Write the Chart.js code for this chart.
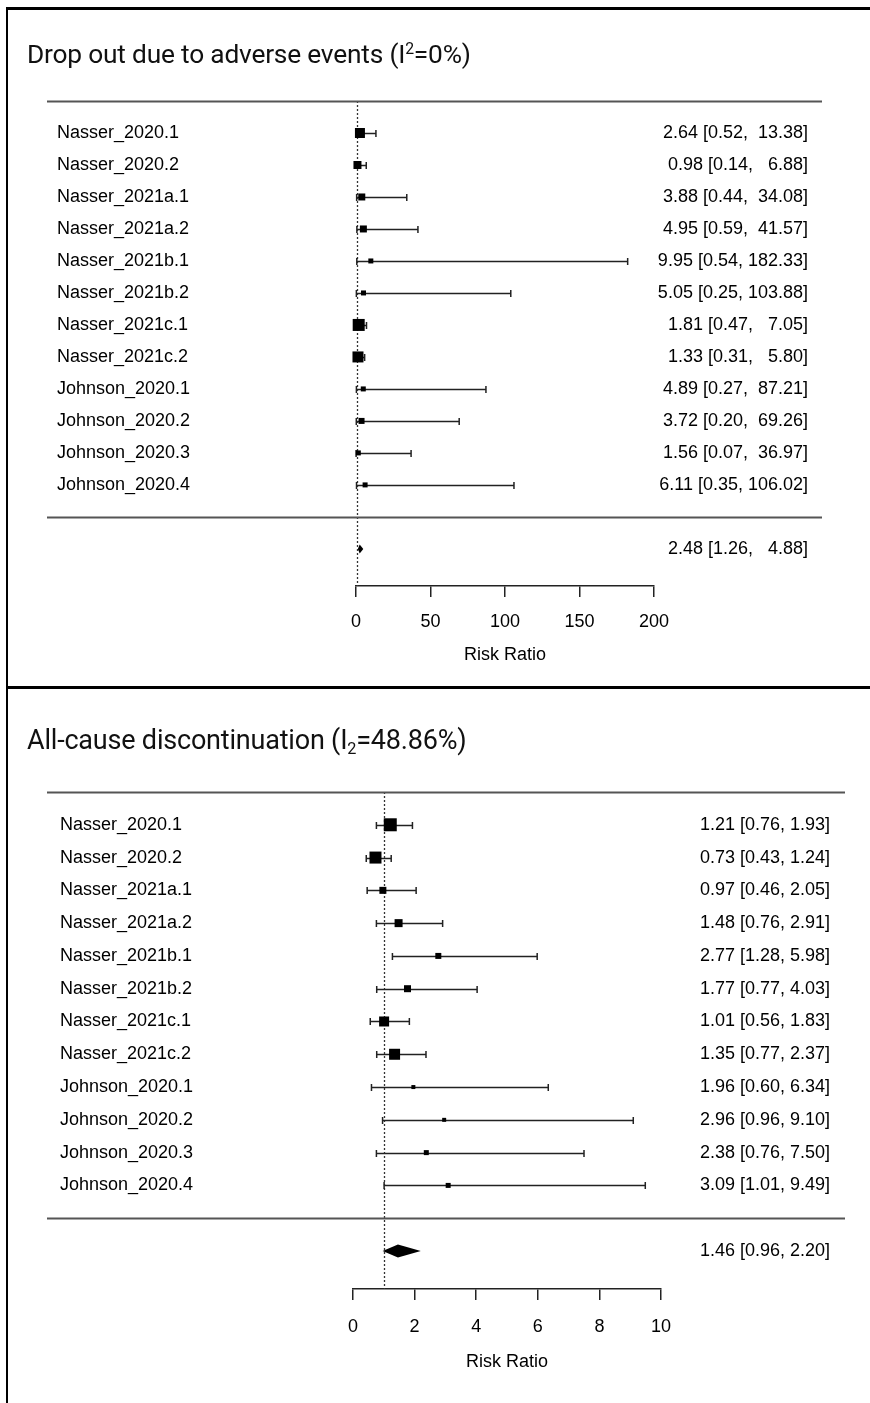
<!DOCTYPE html>
<html><head><meta charset="utf-8">
<script src="https://cdn.jsdelivr.net/npm/chart.js@4.4.1/dist/chart.umd.min.js"></script>
<style>
html,body{margin:0;padding:0;background:#fff;}
#wrap{position:relative;width:870px;height:1403px;overflow:hidden;background:#fff;}
canvas{position:absolute;left:0;}
.title{position:absolute;left:27px;font-family:Roboto,sans-serif;color:#111;white-space:nowrap;line-height:1;letter-spacing:-0.2px;}
.title sup{font-size:60%;vertical-align:0.55em;line-height:0;}
.title sub{font-size:60%;vertical-align:-0.3em;line-height:0;}
.bline{position:absolute;background:#000;}
</style></head><body>
<div id="wrap">
<canvas id="c1" width="870" height="688" style="top:0"></canvas>
<canvas id="c2" width="870" height="715" style="top:688px"></canvas>
<div class="title" style="top:41px;font-size:26.3px">Drop out due to adverse events (I<sup>2</sup>=0%)</div>
<div class="title" style="top:727px;font-size:27px">All-cause discontinuation (I<sub>2</sub>=48.86%)</div>
<div class="bline" style="left:6px;top:7px;width:864px;height:3px"></div>
<div class="bline" style="left:6px;top:7px;width:2px;height:1396px"></div>
<div class="bline" style="left:6px;top:686px;width:864px;height:3px"></div>
</div>
<script>
// ---------- data ----------
const studies = ["Nasser_2020.1","Nasser_2020.2","Nasser_2021a.1","Nasser_2021a.2","Nasser_2021b.1","Nasser_2021b.2","Nasser_2021c.1","Nasser_2021c.2","Johnson_2020.1","Johnson_2020.2","Johnson_2020.3","Johnson_2020.4"];

// Panel A: Drop out due to adverse events
const estA = [2.64,0.98,3.88,4.95,9.95,5.05,1.81,1.33,4.89,3.72,1.56,6.11];
const loA  = [0.52,0.14,0.44,0.59,0.54,0.25,0.47,0.31,0.27,0.20,0.07,0.35];
const hiA  = [13.38,6.88,34.08,41.57,182.33,103.88,7.05,5.80,87.21,69.26,36.97,106.02];
const weightsA = [10,8,7,7,5,5,12,11,5,6,5,5];
const pooledA = [2.48,1.26,4.88]; // estimate, lower, upper
const ticksA = [0,50,100,150,200];

// Panel B: All-cause discontinuation
const estB = [1.21,0.73,0.97,1.48,2.77,1.77,1.01,1.35,1.96,2.96,2.38,3.09];
const loB  = [0.76,0.43,0.46,0.76,1.28,0.77,0.56,0.77,0.60,0.96,0.76,1.01];
const hiB  = [1.93,1.24,2.05,2.91,5.98,4.03,1.83,2.37,6.34,9.10,7.50,9.49];
const weightsB = [13,12,7,8,6,7,10,11,4,4,5,5];
const pooledB = [1.46,0.96,2.20];
const ticksB = [0,2,4,6,8,10];

const refValue = 1;
const axisTitle = "Risk Ratio";

// ---------- drawing ----------
const FONT = "'Liberation Sans', Arial, sans-serif";
const INK = '#222';

function ciStrings(est, lo, hi, pooled){
  const all = hi.concat([pooled[2]]).map(v=>v.toFixed(2));
  const w = Math.max(...all.map(s=>s.length));
  const f = (e,l,h)=>{ let hs=h.toFixed(2); while(hs.length<w) hs=' '+hs; return e.toFixed(2)+' ['+l.toFixed(2)+', '+hs+']'; };
  return {rows: est.map((e,i)=>f(e,lo[i],hi[i])), pooled: f(pooled[0],pooled[1],pooled[2])};
}

function forestPlugin(d){
  const txt = ciStrings(d.est,d.lo,d.hi,d.pooled);
  const n = d.est.length;
  return {
    id:'forest'+d.id,
    beforeDatasetsDraw(chart){
      const {ctx, scales:{x,y}, chartArea} = chart;
      ctx.save();
      const xr = Math.round(x.getPixelForValue(refValue))+0.5;
      ctx.strokeStyle='#333'; ctx.lineWidth=1.3; ctx.setLineDash([2,2]);
      ctx.beginPath(); ctx.moveTo(xr, y.getPixelForValue(-1)); ctx.lineTo(xr, chartArea.bottom); ctx.stroke();
      ctx.setLineDash([]);
      ctx.strokeStyle=INK; ctx.lineWidth=1.5;
      d.est.forEach((e,i)=>{
        const py = Math.round(y.getPixelForValue(i))+0.5;
        const x0 = x.getPixelForValue(d.lo[i]), x1 = x.getPixelForValue(d.hi[i]);
        ctx.beginPath();
        ctx.moveTo(x0,py); ctx.lineTo(x1,py);
        ctx.moveTo(x0,py-3.5); ctx.lineTo(x0,py+3.5);
        ctx.moveTo(x1,py-3.5); ctx.lineTo(x1,py+3.5);
        ctx.stroke();
      });
      ctx.restore();
    },
    afterDatasetsDraw(chart){
      const {ctx, scales:{x,y}} = chart;
      ctx.save();
      ctx.strokeStyle='#555'; ctx.lineWidth=1.8;
      [-1, n].forEach(v=>{
        const py = Math.round(y.getPixelForValue(v))+0.5;
        ctx.beginPath(); ctx.moveTo(d.lineX0,py); ctx.lineTo(d.lineX1,py); ctx.stroke();
      });
      const ys = y.getPixelForValue(n+1);
      ctx.fillStyle='#000';
      ctx.beginPath();
      ctx.moveTo(x.getPixelForValue(d.pooled[1]), ys);
      ctx.lineTo(x.getPixelForValue(d.pooled[0]), ys-d.diaH);
      ctx.lineTo(x.getPixelForValue(d.pooled[2]), ys);
      ctx.lineTo(x.getPixelForValue(d.pooled[0]), ys+d.diaH);
      ctx.closePath(); ctx.fill();
      ctx.font = '18px '+FONT; ctx.fillStyle='#000'; ctx.textBaseline='middle';
      studies.forEach((s,i)=>{
        const py = y.getPixelForValue(i);
        ctx.textAlign='left'; ctx.fillText(s, d.labelX, py);
        ctx.textAlign='right'; ctx.fillText(txt.rows[i], d.valueX, py);
      });
      ctx.textAlign='right'; ctx.fillText(txt.pooled, d.valueX, ys);
      ctx.restore();
    }
  };
}

function makeChart(canvasId, d){
  return new Chart(document.getElementById(canvasId), {
    type:'scatter',
    data:{datasets:[{
      data: d.est.map((v,i)=>({x:v,y:i})),
      pointStyle:'rect',
      pointRadius: d.weights.map(w=>w/Math.SQRT2),
      pointHoverRadius: d.weights.map(w=>w/Math.SQRT2),
      backgroundColor:'#000', borderWidth:0, clip:false
    }]},
    options:{
      responsive:false, animation:false, devicePixelRatio:1, events:[],
      layout:{padding:{left:d.padL, right:d.padR, top:d.padT, bottom:0}},
      plugins:{legend:{display:false}, tooltip:{enabled:false}},
      scales:{
        x:{type:'linear', position:'bottom', min:d.ticks[0], max:d.ticks[d.ticks.length-1],
          afterBuildTicks:s=>{ s.ticks = d.ticks.map(v=>({value:v})); },
          afterFit:s=>{ s.height = d.axisH; },
          grid:{drawOnChartArea:false, drawTicks:true, tickLength:11, color:INK, lineWidth:1.5},
          border:{display:true, color:INK, width:1.5},
          ticks:{font:{family:FONT,size:18}, color:'#000', padding:d.tickPad, maxRotation:0, autoSkip:false},
          title:{display:true, text:axisTitle, font:{family:FONT,size:18}, color:'#000', padding:{top:0,bottom:d.titlePad}}
        },
        y:{type:'linear', reverse:true, min:-1, max:14.16, display:false}
      }
    },
    plugins:[forestPlugin(d)]
  });
}

makeChart('c1', {id:'A', est:estA, lo:loA, hi:hiA, weights:weightsA, pooled:pooledA, ticks:ticksA,
  padL:356, padR:216, padT:101, axisH:102, titlePad:22, tickPad:14, diaH:4.5,
  labelX:57, valueX:808, lineX0:47, lineX1:822});
makeChart('c2', {id:'B', est:estB, lo:loB, hi:hiB, weights:weightsB, pooled:pooledB, ticks:ticksB,
  padL:353, padR:209, padT:104, axisH:114, titlePad:30, tickPad:16, diaH:6.5,
  labelX:60, valueX:830, lineX0:47, lineX1:845});
</script>
</body></html>
